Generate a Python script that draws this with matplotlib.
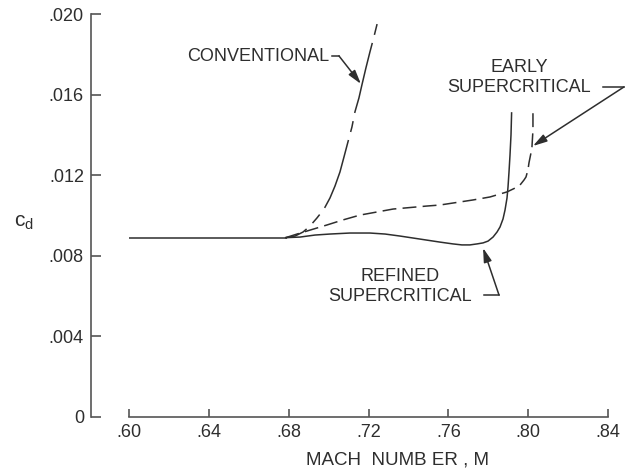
import matplotlib
matplotlib.use("Agg")
import matplotlib.pyplot as plt

plt.rcParams['font.family'] = ['Liberation Sans', 'DejaVu Sans']
plt.rcParams['lines.scale_dashes'] = False

# ---- data (Mach number, section drag coefficient) ----
base_mach = [0.60, 0.679]
base_cd = [0.0089, 0.0089]

conv_mach = [0.6785, 0.6832, 0.6872, 0.6907, 0.6942, 0.6977, 0.7007, 0.7032, 0.7057,
             0.7077, 0.7097, 0.7117, 0.7132, 0.7152, 0.7167, 0.7187, 0.7207, 0.7227, 0.7243]
conv_cd = [0.0089, 0.00898, 0.00918, 0.00948, 0.00988, 0.01032, 0.01087, 0.01146, 0.01216,
           0.01290, 0.01365, 0.01439, 0.01514, 0.01583, 0.01648, 0.01732, 0.01811, 0.01886, 0.0195]

early_mach = [0.6785, 0.6842, 0.6892, 0.6942, 0.6992, 0.7072, 0.7157, 0.7323, 0.7493, 0.7558,
              0.7723, 0.7809, 0.7894, 0.7934, 0.7959, 0.7979, 0.7989, 0.7999, 0.8004, 0.8014,
              0.8019, 0.8024, 0.8024]
early_cd = [0.0089, 0.00908, 0.00923, 0.00938, 0.00953, 0.00978, 0.01002, 0.01032, 0.01047, 0.01052,
            0.01077, 0.01092, 0.01117, 0.01136, 0.01151, 0.01176, 0.01191, 0.01226, 0.01261, 0.01310,
            0.0134, 0.01424, 0.01509]

refined_mach = [0.6785, 0.6857, 0.6932, 0.7007, 0.7107, 0.7207, 0.7283, 0.7358, 0.7458, 0.7558,
                0.7623, 0.7668, 0.7708, 0.7744, 0.7774, 0.7799, 0.7824, 0.7844, 0.7859, 0.7874,
                0.7884, 0.7894, 0.7899, 0.7904, 0.7909, 0.7914, 0.7917]
refined_cd = [0.0089, 0.00893, 0.00903, 0.00908, 0.00913, 0.00913, 0.00908, 0.00898, 0.00883, 0.00868,
              0.00859, 0.00854, 0.00854, 0.00859, 0.00864, 0.00873, 0.00893, 0.00918, 0.00943, 0.00983,
              0.01027, 0.01087, 0.01141, 0.01216, 0.01300, 0.01400, 0.01509]

x_ticks = [0.60, 0.64, 0.68, 0.72, 0.76, 0.80, 0.84]
x_tick_labels = ['.60', '.64', '.68', '.72', '.76', '.80', '.84']
y_ticks = [0.0, 0.004, 0.008, 0.012, 0.016, 0.020]
y_tick_labels = ['0', '.004', '.008', '.012', '.016', '.020']

ink = '#2e2e2e'
axis_col = '#555555'

fig = plt.figure(figsize=(6.25, 4.73), dpi=100)
ax = fig.add_axes([0.2064, 0.1184, 0.7664, 0.852])
ax.set_xlim(0.60, 0.84)
ax.set_ylim(0.0, 0.020)

lw = 1.1
ax.plot(base_mach, base_cd, color=ink, lw=lw, solid_capstyle='butt')
ax.plot(conv_mach[::-1], conv_cd[::-1], color=ink, lw=lw,
        linestyle=(0, (8, 6, 52, 6)), solid_joinstyle='round')
ax.plot(early_mach, early_cd, color=ink, lw=lw, linestyle=(0, (10, 4.5)))
ax.plot(refined_mach, refined_cd, color=ink, lw=lw, solid_joinstyle='round')

# spines
for s in ['top', 'right']:
    ax.spines[s].set_visible(False)
ax.spines['left'].set_position(('outward', 27.4))
for s in ['left', 'bottom']:
    ax.spines[s].set_color(axis_col)
    ax.spines[s].set_linewidth(1.2)

ax.set_xticks(x_ticks)
ax.set_xticklabels(x_tick_labels)
ax.set_yticks(y_ticks)
ax.set_yticklabels(y_tick_labels)
ax.tick_params(axis='x', direction='in', length=6, width=1.2, color=axis_col,
               labelsize=13, labelcolor=ink, pad=5)
ax.tick_params(axis='y', direction='in', length=7, width=1.2, color=axis_col,
               labelsize=13, labelcolor=ink, pad=5)

fig.text(397 / 625, 1 - 460 / 473, 'MACH  NUMB ER , M', ha='center', va='center',
         fontsize=13.5, color=ink)
fig.text(24 / 625, 1 - 222 / 473, r'$\mathregular{c_d}$', ha='center', va='center',
         fontsize=15, color=ink)

# annotations
def leader(text_xy, elbow_start, elbow_end, tip, label, ha, fs=13):
    ax.text(text_xy[0], text_xy[1], label, ha=ha, va='center', fontsize=fs,
            color=ink, multialignment='center', linespacing=1.2, clip_on=False)
    ax.plot([elbow_start[0], elbow_end[0]], [elbow_start[1], elbow_end[1]],
            color=ink, lw=1.1, clip_on=False)
    ax.annotate('', xy=tip, xytext=elbow_end,
                arrowprops=dict(arrowstyle='-|>,head_length=0.7,head_width=0.2',
                                color=ink, lw=1.1, shrinkA=0, shrinkB=0,
                                mutation_scale=12),
                annotation_clip=False)

leader((0.7002, 0.01787), (0.7017, 0.01792), (0.7052, 0.01792), (0.7162, 0.01653),
       'CONVENTIONAL', 'right')
leader((0.7954, 0.01685), (0.8375, 0.01638), (0.8480, 0.01638), (0.8024, 0.01345),
       'EARLY\nSUPERCRITICAL', 'center')
leader((0.7358, 0.00648), (0.7779, 0.00605), (0.7854, 0.00605), (0.7774, 0.00839),
       'REFINED\nSUPERCRITICAL', 'center')

fig.savefig('out.png', dpi=100)
